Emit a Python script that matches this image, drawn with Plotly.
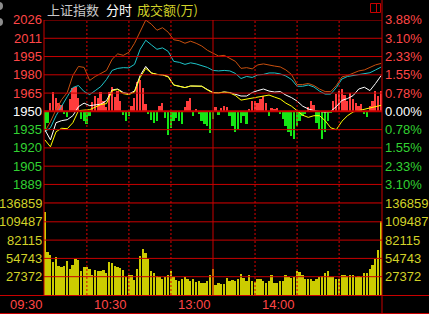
import plotly.graph_objects as go

W, H = 429, 314
prev_close = 1950.4

# ---------------- data ----------------
minutes_bar = list(range(0, 241, 2))
minutes_line = list(range(0, 241, 4))

white = [1935.2, 1926.8, 1941.0, 1942.7, 1943.5, 1946.8, 1954.3, 1957.2, 1955.1, 1956.0,
         1956.4, 1959.3, 1968.1, 1968.9, 1966.0, 1964.9, 1967.2, 1980.1, 1987.6, 1982.2,
         1981.0, 1980.6, 1979.3, 1972.2, 1971.2, 1970.1, 1971.4, 1971.4, 1971.2, 1968.5,
         1966.0, 1965.7, 1966.4, 1966.0, 1964.3, 1963.1, 1963.1, 1966.0, 1967.6, 1968.9,
         1967.2, 1966.4, 1966.8, 1963.9, 1961.8, 1958.9, 1954.7, 1952.4, 1951.0, 1950.4,
         1949.7, 1950.4, 1954.3, 1959.5, 1961.0, 1963.5, 1968.9, 1970.4, 1967.6, 1973.5,
         1980.1]
yellow = [1926.8, 1921.0, 1933.5, 1936.4, 1936.0, 1941.0, 1951.0, 1951.4, 1951.8, 1953.9,
          1956.0, 1956.8, 1967.6, 1968.5, 1965.1, 1964.3, 1966.4, 1978.5, 1986.0, 1982.2,
          1981.0, 1980.6, 1978.9, 1972.2, 1971.4, 1970.1, 1971.4, 1971.2, 1971.2, 1968.1,
          1965.7, 1965.7, 1966.4, 1965.7, 1963.5, 1959.7, 1960.6, 1961.4, 1962.4, 1962.9,
          1963.9, 1962.2, 1960.6, 1957.2, 1954.7, 1951.0, 1947.2, 1945.4, 1946.8, 1946.8,
          1942.7, 1936.8, 1935.2, 1942.2, 1946.8, 1949.9, 1951.0, 1952.1, 1953.2, 1954.3,
          1955.4]
cyan = [1933.5, 1936.8, 1946.8, 1955.1, 1962.6, 1970.1, 1971.8, 1966.8, 1964.3, 1967.6,
        1971.0, 1976.8, 1984.3, 1986.0, 1986.6, 1986.4, 1989.3, 2001.8, 2009.3, 2005.5,
        2001.8, 2003.0, 2000.1, 1991.8, 1991.0, 1989.3, 1990.6, 1989.7, 1988.5, 1986.8,
        1984.3, 1983.9, 1984.3, 1983.9, 1981.8, 1977.6, 1979.3, 1978.5, 1980.6, 1981.0,
        1982.2, 1982.2, 1981.4, 1979.7, 1976.8, 1971.2, 1971.2, 1972.2, 1970.6, 1967.2,
        1964.7, 1964.7, 1970.1, 1977.2, 1979.3, 1980.1, 1981.0, 1981.4, 1982.4, 1984.7,
        1987.1]
orange = [1933.5, 1941.8, 1951.8, 1960.1, 1966.0, 1980.1, 1987.6, 1986.8, 1976.0, 1979.3,
          1981.8, 1984.3, 1993.5, 1998.0, 1996.8, 1999.3, 2006.8, 2016.0, 2026.0, 2022.6,
          2017.6, 2019.7, 2016.0, 2009.7, 2008.9, 2006.8, 2008.5, 2006.8, 2004.5, 2001.0,
          1998.5, 1996.2, 1996.8, 1994.3, 1991.8, 1986.0, 1986.6, 1985.6, 1988.9, 1989.7,
          1988.5, 1987.9, 1987.2, 1984.7, 1981.0, 1972.6, 1972.6, 1973.5, 1971.8, 1968.9,
          1966.8, 1966.8, 1971.8, 1978.9, 1980.1, 1981.8, 1983.9, 1984.7, 1986.8, 1988.9,
          1990.1]
strength = [-15.0, -10.0, 6.7, 15.8, 10.8, 6.7, 5.0, -2.5, -5.0, 10.0,
            19.2, 20.0, 10.8, -6.7, -8.3, -10.8, -4.2, 7.5, 12.5, 10.8,
            15.8, 8.3, 3.3, 15.8, 20.0, 11.7, 16.7, 8.3, -3.3, -8.3,
            -4.2, 4.2, 10.8, 24.2, 25.8, 19.2, 5.8, -2.5, -7.5, -10.0,
            -8.3, 4.2, 6.7, -5.8, -19.2, -14.2, -8.3, -5.8, -8.3, -10.8,
            3.3, 8.3, 10.8, -4.2, 1.7, -2.5, -8.3, -10.8, -12.5, -18.3,
            -6.7, 3.3, -3.3, 2.5, 4.2, 3.3, -4.2, -12.5, -16.7, -15.0,
            -10.0, -4.2, -10.8, 1.7, 8.3, 8.3, 6.7, 10.0, 12.5, 6.7,
            -4.2, 2.5, 1.7, 2.5, -2.5, -6.7, -12.5, -16.7, -20.8, -22.5,
            -12.5, -8.3, -4.2, -2.5, 3.3, 8.3, 5.0, -10.0, -15.0, -22.5,
            -16.7, -8.3, -1.7, 8.3, 14.2, 16.7, 18.3, 13.3, 8.3, 15.0,
            10.0, 6.7, 4.2, 5.8, -2.5, -5.0, 4.2, 8.3, 16.7, 12.5,
            16.7]
volume = [125000, 65000, 60000, 50000, 57000, 44000, 42000, 44000, 51000, 40000,
          45000, 54000, 53000, 36000, 42000, 42000, 39000, 31000, 38000, 36000,
          37000, 38000, 33000, 50000, 49000, 44000, 43000, 41000, 38000, 28000,
          31000, 30000, 23000, 40000, 59000, 70000, 63000, 54000, 37000, 33000,
          29000, 27000, 25000, 27000, 30000, 37000, 27000, 23000, 22000, 24000,
          28000, 24000, 22000, 24000, 20000, 22000, 18000, 19000, 22000, 30000,
          40000, 15000, 18000, 17000, 17000, 26000, 21000, 23000, 22000, 25000,
          32000, 26000, 22000, 30000, 22000, 20000, 24000, 25000, 22000, 19000,
          21000, 30000, 18000, 19000, 22000, 21000, 30000, 27000, 26000, 28000,
          37000, 35000, 31000, 25000, 25000, 25000, 22000, 24000, 27000, 29000,
          34000, 36000, 27000, 27000, 25000, 25000, 30000, 31000, 29000, 30000,
          31000, 28000, 29000, 28000, 33000, 33000, 40000, 45000, 55000, 68000,
          112000]

price_labels = ["2026", "2011", "1995", "1980", "1965", "1950", "1935", "1920", "1905", "1889"]
pct_labels = ["3.88%", "3.10%", "2.33%", "1.55%", "0.78%", "0.00%", "0.78%", "1.55%", "2.33%", "3.10%"]
grid_steps = [5, 4, 3, 2, 1, 0, -1, -2, -3, -4]
step_pct = 0.776
vol_ticks = [136859, 109487, 82115, 54743, 27372]
vol_labels = ["136859", "109487", "82115", "54743", "27372"]
time_labels = ["09:30", "10:30", "13:00", "14:00"]
time_pos = [0, 60, 120, 180]
vgrid_dotted = [30, 60, 90, 150, 180, 210]
vgrid_solid = [120]

# ---------------- styles ----------------
RED_TXT = "#ff4646"
GREEN_TXT = "#32d232"
YEL_TXT = "#d2d228"
GRID = "#c80000"
FONT = "Liberation Sans, Arial, sans-serif"
CJK = "Noto Sans CJK SC, sans-serif"


def px(x):
    return x / W


def py(y):
    return 1 - y / H


def price_at(step):
    return prev_close * (1 + step * step_pct / 100)


fig = go.Figure()

bar_colors = ["#ff3c3c" if v > 0 else "#14e614" for v in strength]
fig.add_trace(go.Bar(x=minutes_bar, y=strength, base=prev_close, width=1.3,
                     marker=dict(color=bar_colors, line=dict(width=0)),
                     xaxis="x", yaxis="y", hoverinfo="skip"))
fig.add_trace(go.Scatter(x=minutes_line, y=orange, mode="lines",
                         line=dict(color="#c8500f", width=1), xaxis="x", yaxis="y", hoverinfo="skip"))
fig.add_trace(go.Scatter(x=minutes_line, y=cyan, mode="lines",
                         line=dict(color="#1ec3c8", width=1), xaxis="x", yaxis="y", hoverinfo="skip"))
fig.add_trace(go.Scatter(x=minutes_line, y=white, mode="lines",
                         line=dict(color="#ffffff", width=1), xaxis="x", yaxis="y", hoverinfo="skip"))
fig.add_trace(go.Scatter(x=minutes_line, y=yellow, mode="lines",
                         line=dict(color="#ffff00", width=1), xaxis="x", yaxis="y", hoverinfo="skip"))
fig.add_trace(go.Bar(x=minutes_bar, y=volume, width=1.3,
                     marker=dict(color="#cccc00", line=dict(width=0)),
                     xaxis="x2", yaxis="y2", hoverinfo="skip"))

shapes = []
# horizontal price grid
for s in grid_steps + [-5]:
    shapes.append(dict(type="line", xref="paper", yref="y", x0=px(44), x1=px(382),
                       y0=price_at(s), y1=price_at(s),
                       line=dict(color=GRID, width=2 if s == 0 else 1)))
# volume grid
for v in vol_ticks:
    shapes.append(dict(type="line", xref="paper", yref="y2", x0=px(44), x1=px(382),
                       y0=v, y1=v, line=dict(color=GRID, width=1)))
# vertical grid
for m in vgrid_dotted:
    shapes.append(dict(type="line", xref="x", yref="paper", x0=m, x1=m, y0=py(295), y1=py(20),
                       line=dict(color="#dc0000", width=1, dash="2px,2px")))
for m in vgrid_solid:
    shapes.append(dict(type="line", xref="x", yref="paper", x0=m, x1=m, y0=py(295), y1=py(20),
                       line=dict(color=GRID, width=1)))
# frame
shapes.append(dict(type="line", xref="paper", yref="paper", x0=px(44), x1=px(44), y0=py(295), y1=py(20),
                   line=dict(color=GRID, width=1)))
shapes.append(dict(type="line", xref="paper", yref="paper", x0=px(382), x1=px(382), y0=0, y1=1,
                   line=dict(color=GRID, width=1)))
shapes.append(dict(type="line", xref="paper", yref="paper", x0=0, x1=1, y0=py(295.5), y1=py(295.5),
                   line=dict(color=GRID, width=1)))
shapes.append(dict(type="line", xref="paper", yref="paper", x0=0, x1=1, y0=py(313.5), y1=py(313.5),
                   line=dict(color=GRID, width=1)))
# top-right icon
shapes.append(dict(type="rect", xref="paper", yref="paper", x0=px(370.5), x1=px(380.5),
                   y0=py(12.5), y1=py(3.5), line=dict(color=GRID, width=1)))
shapes.append(dict(type="line", xref="paper", yref="paper", x0=px(376.5), x1=px(376.5),
                   y0=py(12.5), y1=py(3.5), line=dict(color=GRID, width=1)))
# left-edge grey knobs
for yc in (6, 22):
    shapes.append(dict(type="circle", xref="paper", yref="paper", x0=px(-5), x1=px(3),
                       y0=py(yc + 4), y1=py(yc - 4), fillcolor="#8c8c8c", line=dict(width=0)))

annotations = []
for s, lab, pl in zip(grid_steps, price_labels, pct_labels):
    col = RED_TXT if s > 0 else ("#ffffff" if s == 0 else GREEN_TXT)
    annotations.append(dict(text=lab, xref="paper", yref="y", x=px(44), y=price_at(s),
                            xanchor="right", yanchor="middle", showarrow=False,
                            font=dict(family=FONT, size=13, color=col)))
    annotations.append(dict(text=pl, xref="paper", yref="y", x=px(383), y=price_at(s),
                            xanchor="left", yanchor="middle", showarrow=False,
                            font=dict(family=FONT, size=13, color=col)))
for v, lab in zip(vol_ticks, vol_labels):
    annotations.append(dict(text=lab, xref="paper", yref="y2", x=px(44), y=v,
                            xanchor="right", yanchor="middle", showarrow=False,
                            font=dict(family=FONT, size=13, color=YEL_TXT)))
    annotations.append(dict(text=lab, xref="paper", yref="y2", x=px(383), y=v,
                            xanchor="left", yanchor="middle", showarrow=False,
                            font=dict(family=FONT, size=13, color=YEL_TXT)))
for m, lab in zip(time_pos, time_labels):
    annotations.append(dict(text=lab, xref="x", yref="paper", x=m, y=py(304),
                            xanchor="right", yanchor="middle", showarrow=False,
                            font=dict(family=FONT, size=13, color=RED_TXT)))
annotations.append(dict(text="上证指数", xref="paper", yref="paper", x=px(45), y=py(9.5),
                        xanchor="left", yanchor="middle", showarrow=False,
                        font=dict(family=CJK, size=13, color="#c8c8c8")))
annotations.append(dict(text="分时", xref="paper", yref="paper", x=px(104), y=py(9.5),
                        xanchor="left", yanchor="middle", showarrow=False,
                        font=dict(family=CJK, size=13, color="#ffffff")))
annotations.append(dict(text="成交额(万)", xref="paper", yref="paper", x=px(135), y=py(9.5),
                        xanchor="left", yanchor="middle", showarrow=False,
                        font=dict(family=CJK, size=13, color=YEL_TXT)))

fig.update_layout(
    width=W, height=H,
    margin=dict(l=0, r=0, t=0, b=0),
    paper_bgcolor="#000000", plot_bgcolor="#000000",
    showlegend=False, barmode="overlay", bargap=0,
    xaxis=dict(domain=[px(44), px(382)], range=[-0.6, 240.6], visible=False, anchor="y"),
    yaxis=dict(domain=[py(202.7), py(20)],
               range=[price_at(-5), price_at(5)], visible=False, anchor="x"),
    xaxis2=dict(domain=[px(44), px(382)], range=[-0.6, 240.6], visible=False, anchor="y2", matches="x"),
    yaxis2=dict(domain=[py(295), py(203.5)], range=[0, 136859], visible=False, anchor="x2"),
    shapes=shapes, annotations=annotations,
)

fig.write_html("out.html", config=dict(displayModeBar=False))
